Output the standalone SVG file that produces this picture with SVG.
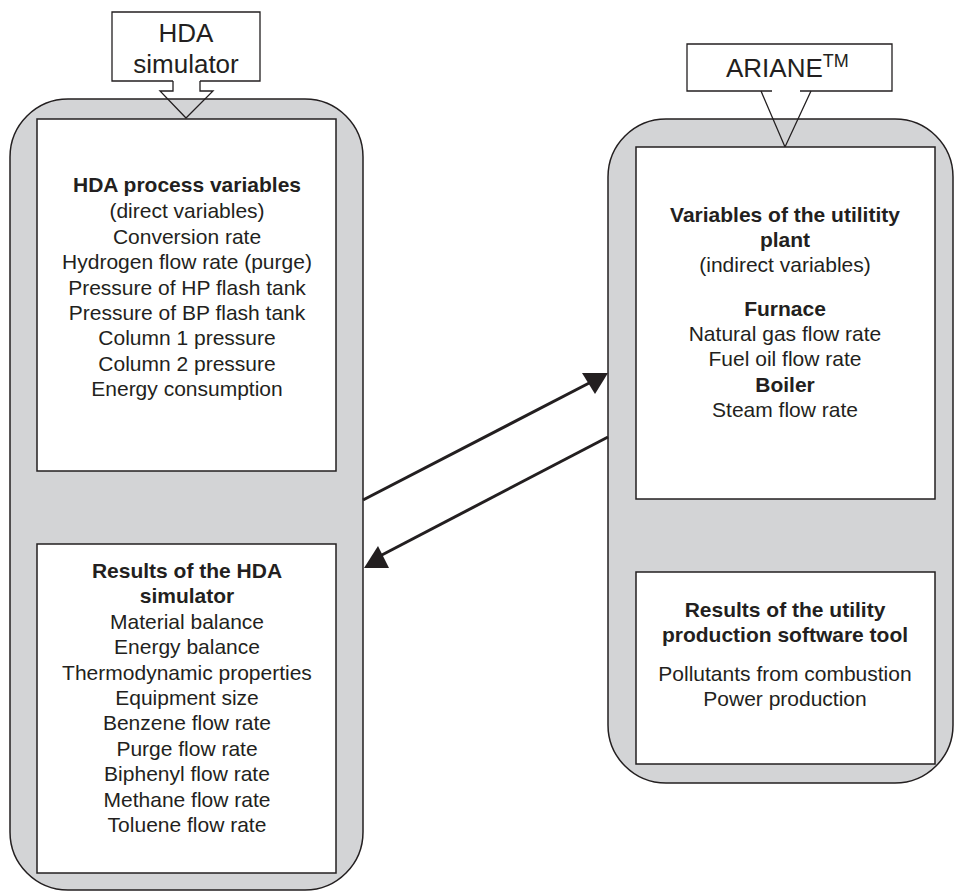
<svg xmlns="http://www.w3.org/2000/svg" width="955" height="891" viewBox="0 0 955 891">
<style>
.cont{fill:#d3d4d6;stroke:#231f20;stroke-width:1.5}
.box{fill:#fff;stroke:#231f20;stroke-width:1.5}
.call{fill:#fff;stroke:#231f20;stroke-width:1.3}
.ln{fill:none;stroke:#231f20;stroke-width:1.3}
text{font-family:"Liberation Sans",Arial,sans-serif;fill:#231f20;text-anchor:middle}
.t{font-size:21px}
.b{font-size:21px;font-weight:bold}
.c{font-size:26px}
.s{text-anchor:start}
.arr{stroke:#231f20;stroke-width:3;fill:none}
.head{fill:#231f20}
</style>
<rect width="955" height="891" fill="#fff"/>
<g id="hda-container">
<rect class="cont" x="10" y="99" width="353" height="791" rx="58" ry="58"/>
</g>
<g id="ariane-container">
<rect class="cont" x="608" y="119" width="345" height="664" rx="58" ry="58"/>
</g>
<g id="hda-callout">
<path class="call" d="M173,81 L112,81 L112,12 L260,12 L260,81 L200,81"/>
<path class="ln" d="M173,81 L173,91 L160,91 L186,118 L213,91 L200,91 L200,81"/>
<text class="c" x="186" y="42">HDA</text>
<text class="c" x="186" y="73">simulator</text>
</g>
<g id="ariane-callout">
<path class="call" d="M772,91 L687,91 L687,44 L892,44 L892,91 L800,91"/>
<path class="ln" d="M761,91 L785,147 L811,91"/>
<text class="c s" x="726" y="77">ARIANE<tspan font-size="18" dy="-10">TM</tspan></text>
</g>
<g id="hda-process-variables">
<rect class="box" x="37" y="119" width="299" height="352"/>
<text class="b" x="187" y="192">HDA process variables</text>
<text class="t" x="187" y="218">(direct variables)</text>
<text class="t" x="187" y="244">Conversion rate</text>
<text class="t" x="187" y="269">Hydrogen flow rate (purge)</text>
<text class="t" x="187" y="295">Pressure of HP flash tank</text>
<text class="t" x="187" y="320">Pressure of BP flash tank</text>
<text class="t" x="187" y="345">Column 1 pressure</text>
<text class="t" x="187" y="371">Column 2 pressure</text>
<text class="t" x="187" y="396">Energy consumption</text>
</g>
<g id="hda-results">
<rect class="box" x="37" y="544" width="299" height="329"/>
<text class="b" x="187" y="578">Results of the HDA</text>
<text class="b" x="187" y="603">simulator</text>
<text class="t" x="187" y="629">Material balance</text>
<text class="t" x="187" y="654">Energy balance</text>
<text class="t" x="187" y="680">Thermodynamic properties</text>
<text class="t" x="187" y="705">Equipment size</text>
<text class="t" x="187" y="730">Benzene flow rate</text>
<text class="t" x="187" y="756">Purge flow rate</text>
<text class="t" x="187" y="781">Biphenyl flow rate</text>
<text class="t" x="187" y="807">Methane flow rate</text>
<text class="t" x="187" y="832">Toluene flow rate</text>
</g>
<g id="utility-variables">
<rect class="box" x="636" y="147" width="299" height="352"/>
<text class="b" x="785" y="222">Variables of the utilitity</text>
<text class="b" x="785" y="247">plant</text>
<text class="t" x="785" y="272">(indirect variables)</text>
<text class="b" x="785" y="316">Furnace</text>
<text class="t" x="785" y="341">Natural gas flow rate</text>
<text class="t" x="785" y="366">Fuel oil flow rate</text>
<text class="b" x="785" y="392">Boiler</text>
<text class="t" x="785" y="417">Steam flow rate</text>
</g>
<g id="utility-results">
<rect class="box" x="636" y="572" width="299" height="192"/>
<text class="b" x="785" y="617">Results of the utility</text>
<text class="b" x="785" y="642">production software tool</text>
<text class="t" x="785" y="681">Pollutants from combustion</text>
<text class="t" x="785" y="706">Power production</text>
</g>
<g id="connectors">
<line class="arr" x1="363" y1="500" x2="595" y2="380"/>
<polygon class="head" points="582,373 608,373 595,394"/>
<line class="arr" x1="608" y1="437" x2="378" y2="557"/>
<polygon class="head" points="364,568 389,568 378,546"/>
</g>
</svg>
